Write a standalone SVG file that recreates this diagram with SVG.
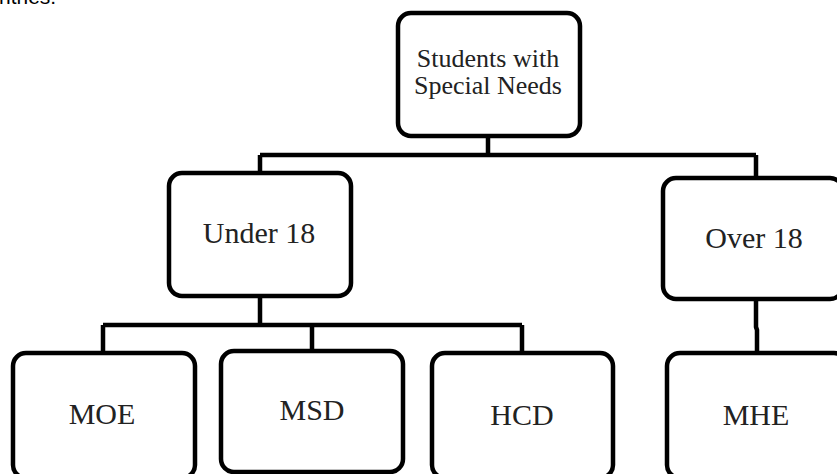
<svg xmlns="http://www.w3.org/2000/svg" width="837" height="474" viewBox="0 0 837 474">
<style>
.box{fill:#fff;stroke:#000;stroke-width:4.5}
.lbl{font-family:"Liberation Serif","Times New Roman",serif;font-size:30px;fill:#222;text-anchor:middle}
.top{font-size:26px}
.ln{fill:none;stroke:#000;stroke-width:4.5;stroke-linejoin:round}
.frag{font-family:"Liberation Sans",Arial,sans-serif;font-size:21px;fill:#000}
</style>
<rect width="837" height="474" fill="#fff"/>
<text class="frag" x="-1" y="4">ntries.</text>
<g id="connectors">
<path class="ln" d="M488 137V155M260 155H756M260 155V173M756 155V178"/>
<path class="ln" d="M260 296V325M103 325H522M103 325V353M312 325V351M522 325V353"/>
<path class="ln" d="M756 299V327L757 330V353"/>
</g>
<g id="n_root">
<rect class="box" x="398" y="13" width="182" height="123" rx="13"/>
<text class="lbl top" x="488" y="67">Students with</text>
<text class="lbl top" x="488" y="94">Special Needs</text>
</g>
<g id="n_under18">
<rect class="box" x="169" y="173" width="182" height="123" rx="13"/>
<text class="lbl" x="259" y="243">Under 18</text>
</g>
<g id="n_over18">
<rect class="box" x="663" y="178" width="180" height="121" rx="13"/>
<text class="lbl" x="754" y="248">Over 18</text>
</g>
<g id="n_moe">
<rect class="box" x="13" y="353" width="182" height="125" rx="13"/>
<text class="lbl" x="102" y="424">MOE</text>
</g>
<g id="n_msd">
<rect class="box" x="221" y="351" width="182" height="121" rx="13"/>
<text class="lbl" x="312" y="420">MSD</text>
</g>
<g id="n_hcd">
<rect class="box" x="432" y="353" width="181" height="125" rx="13"/>
<text class="lbl" x="522" y="425">HCD</text>
</g>
<g id="n_mhe">
<rect class="box" x="667" y="353" width="180" height="125" rx="13"/>
<text class="lbl" x="756" y="425">MHE</text>
</g>
</svg>
